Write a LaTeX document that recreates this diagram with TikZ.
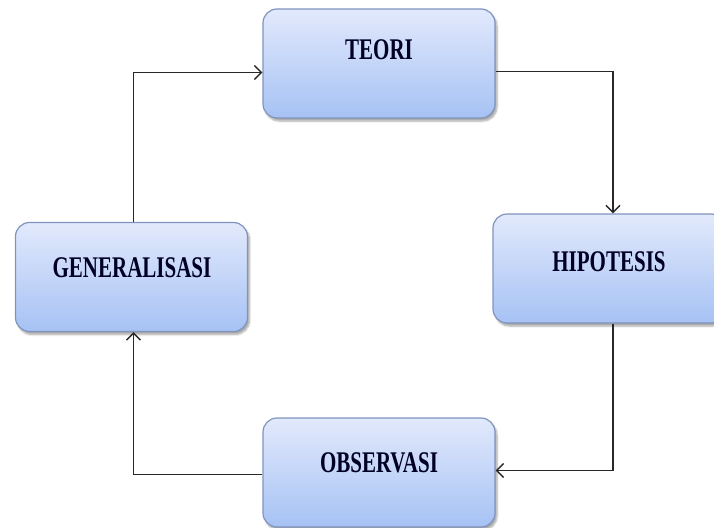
\documentclass[tikz,border=0pt]{standalone}
\usepackage{fontspec}
\setmainfont{Liberation Serif}
\usetikzlibrary{arrows.meta,shadows.blur}
\definecolor{boxtop}{RGB}{226,233,252}
\definecolor{boxbot}{RGB}{166,194,244}
\definecolor{boxedge}{RGB}{128,148,190}
\definecolor{linec}{RGB}{40,40,40}
\tikzset{
  stagebox/.style={draw=boxedge, line width=1.2pt, rounded corners=14pt,
    minimum width=232pt, minimum height=109pt, top color=boxtop, bottom color=boxbot,
    blur shadow={shadow xshift=2pt, shadow yshift=-3pt, shadow blur steps=6, shadow opacity=35}},
  stagetext/.style={font=\fontsize{30}{32}\selectfont\bfseries, text=black!85!blue, inner sep=0pt},
  conn/.style={draw=linec, line width=1.7pt, -{Straight Barb[length=7pt,width=14pt,line width=1.5pt]}}
}
\newcommand{\cond}[1]{\scalebox{0.7}[1]{#1}}
\begin{document}
\begin{tikzpicture}[x=1pt,y=1pt]
\useasboundingbox (0,0) rectangle (714,-527);
\clip (0,0) rectangle (714,-527);
\node[stagebox] (teori) at (379,-63.5) {};
\node[stagebox] (hipo) at (609,-268.5) {};
\node[stagebox] (gen) at (131.5,-277) {};
\node[stagebox] (obs) at (379,-472.5) {};
\node[stagetext] (teoriT) at (379,-50) {\cond{TEORI}};
\node[stagetext] (hipoT) at (609,-262) {\cond{HIPOTESIS}};
\node[stagetext] (genT) at (132,-268) {\cond{GENERALISASI}};
\node[stagetext] (obsT) at (379,-463) {\cond{OBSERVASI}};
\draw[conn] ([yshift=-8pt]teori.east) -| ([xshift=4pt]hipo.north);
\draw[conn] ([xshift=4pt]hipo.south) |- ([yshift=2pt]obs.east);
\draw[conn] ([yshift=-2pt]obs.west) -| ([xshift=2pt]gen.south);
\draw[conn] ([xshift=2pt]gen.north) |- ([yshift=-9pt]teori.west);
\end{tikzpicture}
\end{document}
